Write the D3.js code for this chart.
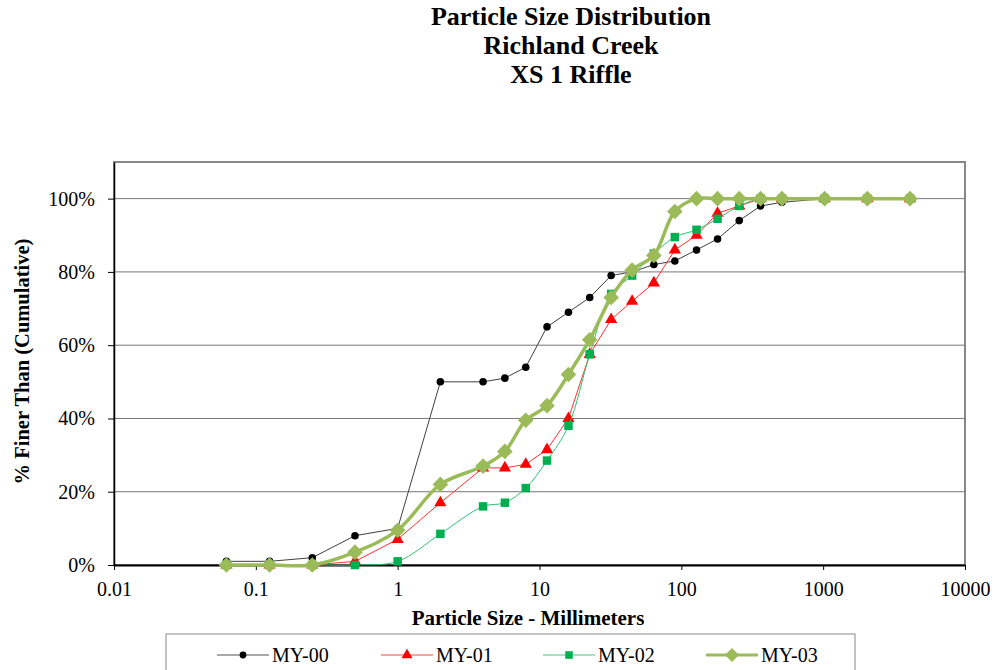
<!DOCTYPE html>
<html>
<head>
<meta charset="utf-8">
<script src="https://cdn.jsdelivr.net/npm/d3@7"></script>
<style>
    body { margin: 0; background: #fff; }
    svg text { font-family: 'Liberation Serif', 'Times New Roman', Times, serif !important; fill: #000; }
</style>
</head>
<body>
<div id="chart"></div>
<script>
// sieve sizes (mm)
const sizes = [0.062, 0.125, 0.25, 0.5, 1, 2, 4, 5.7, 8, 11.3, 16, 22.6, 32, 45, 64, 90, 128, 180, 256, 362, 512, 1024, 2048, 4096];

// cumulative % finer, per monitoring year
const my00 = [1, 1, 2, 8, 10, 50, 50, 51, 54, 65, 69, 73, 79, 80, 82, 83, 86, 89, 94, 98, 99, 100, 100, 100];
const my01 = [0, 0, 0, 1, 7, 17, 26.5, 26.5, 27.5, 31.5, 40, 57.5, 67, 72, 77, 86, 90, 96, 98, 100, 100, 100, 100, 100];
const my02 = [0, 0, 0, 0, 1, 8.5, 16, 17, 21, 28.5, 38, 57.5, 74, 79, 85, 89.5, 91.5, 94.5, 98, 100, 100, 100, 100, 100];
const my03 = [0, 0, 0, 3.5, 9.5, 22, 27, 31, 39.5, 43.5, 52, 61.5, 73, 80.5, 84.5, 96.5, 100, 100, 100, 100, 100, 100, 100, 100];

const seriesNames = ["MY-00", "MY-01", "MY-02", "MY-03"];
const xTicks = [0.01, 0.1, 1, 10, 100, 1000, 10000];
const yTicks = [0, 0.2, 0.4, 0.6, 0.8, 1.0];
const titleLines = ["Particle Size Distribution", "Richland Creek", "XS 1 Riffle"];

const plot = { left: 114, right: 965, top: 162, bottom: 565 };

const styles = [
    { line: "#404040", width: 1, marker: "#000000", symbol: d3.symbolCircle, size: 45, rot: 0, smooth: false },
    { line: "#ff3030", width: 1, marker: "#ff0000", symbol: d3.symbolTriangle, size: 65, rot: 0, smooth: false },
    { line: "#2fc173", width: 1, marker: "#00b050", symbol: d3.symbolSquare, size: 72, rot: 0, smooth: true },
    { line: "#9bbb59", width: 3.5, marker: "#9bbb59", symbol: d3.symbolSquare, size: 122, rot: 45, smooth: true }
];

const allSeries = [my00, my01, my02, my03].map((vals, i) => ({
    name: seriesNames[i],
    points: sizes.map((s, j) => [s, vals[j] / 100]),
    style: styles[i]
}));

const svg = d3.select("#chart").append("svg")
    .attr("width", 998)
    .attr("height", 670);

svg.append("rect").attr("width", 998).attr("height", 670).attr("fill", "#fff");

const xScale = d3.scaleLog()
    .domain([0.01, 10000])
    .range([plot.left, plot.right]);

const yScale = d3.scaleLinear()
    .domain([0, 1.1])
    .range([plot.bottom, plot.top]);

// title
svg.append("g").selectAll("text")
    .data(titleLines)
    .join("text")
    .attr("x", 571)
    .attr("y", (d, i) => 25 + i * 29)
    .attr("text-anchor", "middle")
    .attr("font-size", 26)
    .attr("font-weight", "bold")
    .text(d => d);

// plot frame
svg.append("rect")
    .attr("x", plot.left)
    .attr("y", plot.top)
    .attr("width", plot.right - plot.left)
    .attr("height", plot.bottom - plot.top)
    .attr("fill", "#fff")
    .attr("stroke", "#888")
    .attr("stroke-width", 2);

// gridlines
svg.append("g").selectAll("line")
    .data(yTicks.filter(d => d > 0))
    .join("line")
    .attr("x1", plot.left)
    .attr("x2", plot.right)
    .attr("y1", d => yScale(d))
    .attr("y2", d => yScale(d))
    .attr("stroke", "#777")
    .attr("stroke-width", 1);

// axes
const yAxis = svg.append("g")
    .attr("transform", "translate(" + plot.left + ",0)")
    .call(d3.axisLeft(yScale).tickValues(yTicks).tickFormat(d3.format(".0%")).tickSize(6).tickPadding(13).tickSizeOuter(0));
yAxis.select(".domain").attr("stroke", "#000").attr("stroke-width", 1.5);

const xAxis = svg.append("g")
    .attr("transform", "translate(0," + plot.bottom + ")")
    .call(d3.axisBottom(xScale).tickValues(xTicks).tickFormat(d => String(d)).tickSize(5).tickPadding(12).tickSizeOuter(0));
xAxis.select(".domain").attr("stroke", "#000").attr("stroke-width", 2);

svg.selectAll(".tick text")
    .attr("font-size", 20)
    .attr("fill", "#000");
svg.selectAll(".tick line").attr("stroke", "#000");

// axis titles
svg.append("text")
    .attr("transform", "translate(22," + ((plot.top + plot.bottom) / 2 - 2) + ") rotate(-90)")
    .attr("text-anchor", "middle")
    .attr("dy", "0.35em")
    .attr("font-size", 20.5)
    .attr("font-weight", "bold")
    .text("% Finer Than (Cumulative)");

svg.append("text")
    .attr("x", 528)
    .attr("y", 625)
    .attr("text-anchor", "middle")
    .attr("font-size", 21)
    .attr("font-weight", "bold")
    .text("Particle Size - Millimeters");

// series
const straight = d3.line()
    .x(d => xScale(d[0]))
    .y(d => yScale(d[1]));
const smooth = d3.line()
    .x(d => xScale(d[0]))
    .y(d => yScale(d[1]))
    .curve(d3.curveCatmullRom.alpha(0.5));

allSeries.forEach(s => {
    const g = svg.append("g");
    g.append("path")
        .datum(s.points)
        .attr("fill", "none")
        .attr("stroke", s.style.line)
        .attr("stroke-width", s.style.width)
        .attr("d", s.style.smooth ? smooth : straight);

    g.selectAll("path.marker")
        .data(s.points)
        .join("path")
        .attr("class", "marker")
        .attr("transform", d => "translate(" + xScale(d[0]) + "," + yScale(d[1]) + ") rotate(" + s.style.rot + ")")
        .attr("d", d3.symbol().type(s.style.symbol).size(s.style.size))
        .attr("fill", s.style.marker);
});

// legend
const legend = svg.append("g");
legend.append("rect")
    .attr("x", 166)
    .attr("y", 634)
    .attr("width", 689)
    .attr("height", 50)
    .attr("fill", "#fff")
    .attr("stroke", "#888")
    .attr("stroke-width", 1);

const legendX = [217, 381, 543, 706];
allSeries.forEach((s, i) => {
    const lx = legendX[i];
    legend.append("line")
        .attr("x1", lx).attr("x2", lx + 52)
        .attr("y1", 655).attr("y2", 655)
        .attr("stroke", s.style.line)
        .attr("stroke-opacity", i === 3 ? 1 : 0.45)
        .attr("stroke-width", i === 3 ? 3 : 2);
    legend.append("path")
        .attr("transform", "translate(" + (lx + 26) + ",655) rotate(" + s.style.rot + ")")
        .attr("d", d3.symbol().type(s.style.symbol).size(s.style.size * 0.8))
        .attr("fill", s.style.marker);
    legend.append("text")
        .attr("x", lx + 55)
        .attr("y", 662)
        .attr("font-size", 20)
        .text(s.name);
});
</script>
</body>
</html>
